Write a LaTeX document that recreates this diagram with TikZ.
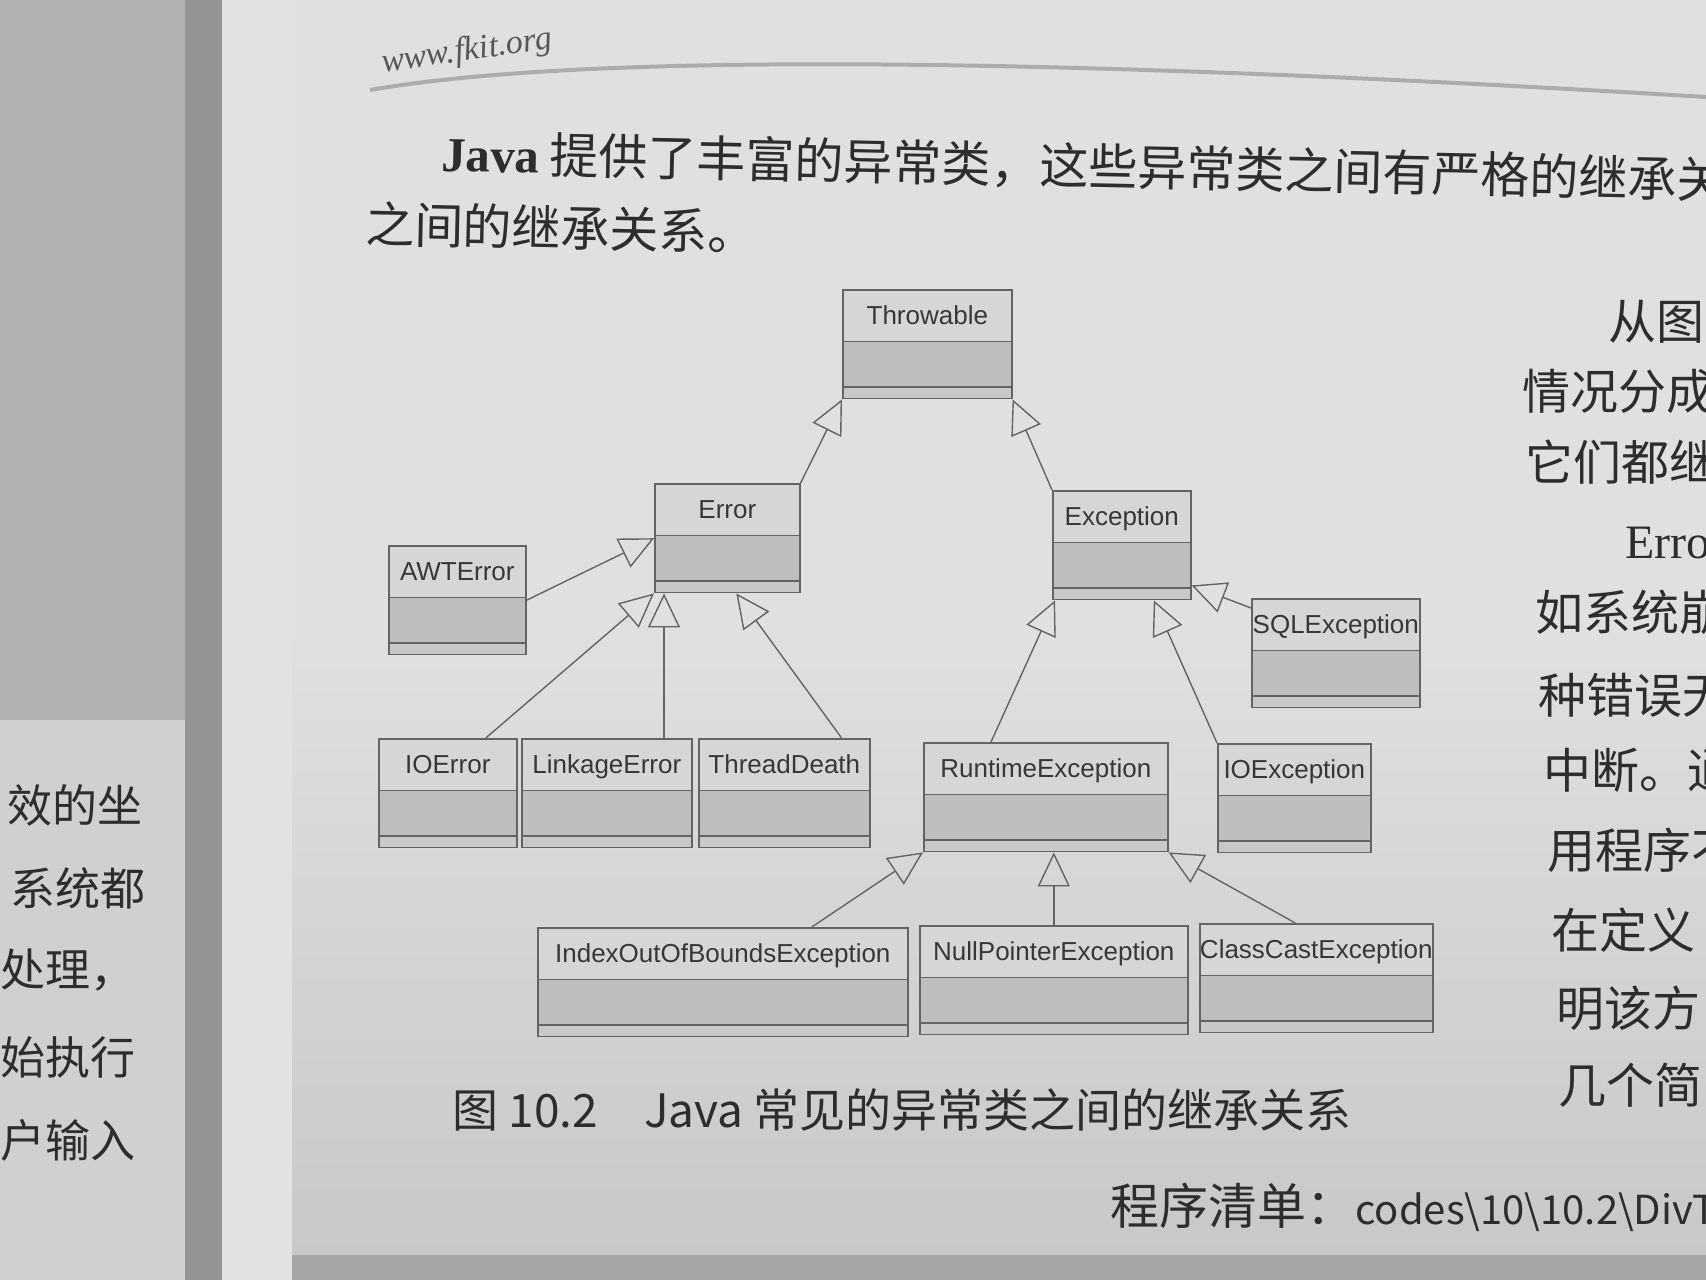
\documentclass[tikz,border=0pt]{standalone}
\usepackage{fontspec}
\setmainfont{Liberation Sans}
\newfontfamily\cjk{Noto Sans CJK SC}
\newfontfamily\bookserif{Liberation Serif}
\usetikzlibrary{shapes.multipart,arrows.meta,calc}
\definecolor{pagelight}{RGB}{224,224,222}
\definecolor{pagedark}{RGB}{200,200,198}
\definecolor{leftshadow}{RGB}{178,178,178}
\definecolor{leftpage}{RGB}{208,208,206}
\definecolor{spine}{RGB}{148,148,148}
\definecolor{edges}{RGB}{226,226,224}
\definecolor{namefill}{RGB}{214,214,212}
\definecolor{attrfill}{RGB}{190,190,190}
\definecolor{opsfill}{RGB}{200,200,200}
\definecolor{umlline}{RGB}{100,100,100}
\definecolor{umltext}{RGB}{55,55,55}
\definecolor{booktext}{RGB}{45,45,45}
\newcommand{\umlclass}[1]{#1\rule[-8pt]{0pt}{25pt}\nodepart{two}\rule{0pt}{22pt}\nodepart{three}\rule{0pt}{5pt}}
\begin{document}
\begin{tikzpicture}
[x=0.5pt,y=-0.5pt,
 classbox/.style={rectangle split,rectangle split parts=3,
   rectangle split part fill={namefill,attrfill,opsfill},
   draw=umlline,line width=0.8pt,inner xsep=0pt,inner ysep=0pt,
   anchor=north west,text=umltext,font=\fontsize{13}{15}\selectfont},
 inherit/.style={draw=umlline,line width=0.7pt,-{Triangle[open,length=17pt,width=16pt]}},
 book text/.style={anchor=west,inner sep=0pt,text=booktext,font=\cjk\fontsize{22.5}{26}\selectfont},
 side text/.style={book text,font=\cjk\fontsize{24}{26}\selectfont},
 para text/.style={book text,font=\cjk\fontsize{24.5}{28}\selectfont}]
\useasboundingbox (0,0) rectangle (1706,1280);
% the open book
\fill[leftshadow] (0,0) rectangle (185,720);
\fill[leftpage] (0,720) rectangle (185,1280);
\fill[spine] (185,0) rectangle (222,1280);
\fill[edges] (222,0) rectangle (292,1280);
\shade[top color=pagelight,bottom color=pagedark,middle color=pagelight] (292,0) rectangle (1706,1255);
\fill[gray!70] (292,1255) rectangle (1706,1280);
\draw[gray!65,line width=2pt] (370,90) .. controls (600,50) and (1100,60) .. (1706,97);
\node[rotate=8,inner sep=0pt,text=booktext!80,font=\bookserif\itshape\fontsize{17}{20}\selectfont] (site) at (467,52) {www.fkit.org};
% page text
\node[para text,rotate=-1.2] (para1) at (441,153) {{\bookserif\bfseries Java} 提供了丰富的异常类，这些异常类之间有严格的继承关};
\node[para text,rotate=-1.2] (para2) at (365,224) {之间的继承关系。};
\node[book text] (l1) at (7,805) {效的坐};
\node[book text] (l2) at (10,888) {系统都};
\node[book text] (l3) at (0,970) {处理，};
\node[book text] (l4) at (0,1057) {始执行};
\node[book text] (l5) at (0,1140) {户输入};
\node[side text] (r1) at (1608,322) {从图};
\node[side text] (r2) at (1522,391) {情况分成};
\node[side text] (r3) at (1525,462) {它们都继};
\node[side text,font=\bookserif\fontsize{24}{26}\selectfont] (r4) at (1625,543) {Erro};
\node[side text] (r5) at (1535,612) {如系统崩};
\node[side text] (r6) at (1538,695) {种错误无};
\node[side text] (r7) at (1543,770) {中断。通};
\node[side text] (r8) at (1547,850) {用程序不};
\node[side text] (r9) at (1551,930) {在定义};
\node[side text] (r10) at (1556,1008) {明该方};
\node[side text] (r11) at (1558,1085) {几个简};
% classes
\node[classbox,minimum width=84.5pt] (thr) at (842,289) {\umlclass{Throwable}};
\node[classbox,minimum width=72.5pt] (err) at (654,483) {\umlclass{Error}};
\node[classbox,minimum width=69pt] (exc) at (1052,490) {\umlclass{Exception}};
\node[classbox,minimum width=68.5pt] (awt) at (388,545) {\umlclass{AWTError}};
\node[classbox,minimum width=84pt] (sql) at (1251,598) {\umlclass{SQLException}};
\node[classbox,minimum width=69pt] (ioe) at (378,738) {\umlclass{IOError}};
\node[classbox,minimum width=85pt] (lnk) at (521,738) {\umlclass{LinkageError}};
\node[classbox,minimum width=85.5pt] (thd) at (698,738) {\umlclass{ThreadDeath}};
\node[classbox,minimum width=122pt] (rte) at (923,742) {\umlclass{RuntimeException}};
\node[classbox,minimum width=76.5pt] (ioex) at (1217,743) {\umlclass{IOException}};
\node[classbox,minimum width=185pt] (idx) at (537,927) {\umlclass{IndexOutOfBoundsException}};
\node[classbox,minimum width=134pt] (npe) at (919,925) {\umlclass{NullPointerException}};
\node[classbox,minimum width=116.5pt] (cce) at (1199,923) {\umlclass{ClassCastException}};
% inheritance
\draw[inherit] (err.north east) -- (thr.south west);
\draw[inherit] (exc.north west) -- (thr.south east);
\draw[inherit] (awt.east) -- (err.west);
\draw[inherit] ($(ioe.north)+(38,0)$) -- (err.south west);
\draw[inherit] ($(lnk.north west)+(143,0)$) -- ($(err.south west)+(10,0)$);
\draw[inherit] ($(thd.north east)+(-29,0)$) -- ($(err.south)+(9,0)$);
\draw[inherit] ($(rte.north west)+(68,0)$) -- ($(exc.south west)+(3,0)$);
\draw[inherit] (ioex.north west) -- ($(exc.south)+(32,0)$);
\draw[inherit] ($(sql.north west)+(0,10)$) -- ($(exc.south east)+(0,-15)$);
\draw[inherit] ($(idx.north)+(89,0)$) -- (rte.south west);
\draw[inherit] (npe.north) -- (npe.north |- rte.south);
\draw[inherit] ($(cce.north)+(-21,0)$) -- (rte.south east);
% caption and listing
\node[book text,font=\cjk\fontsize{23}{26}\selectfont] (caption) at (452,1110) {图 10.2\hspace{1em}Java 常见的异常类之间的继承关系};
\node[book text,font=\cjk\fontsize{24.5}{28}\selectfont] (listing) at (1110,1207) {程序清单：{\fontsize{20}{24}\selectfont codes\textbackslash 10\textbackslash 10.2\textbackslash DivT}};
\end{tikzpicture}
\end{document}
